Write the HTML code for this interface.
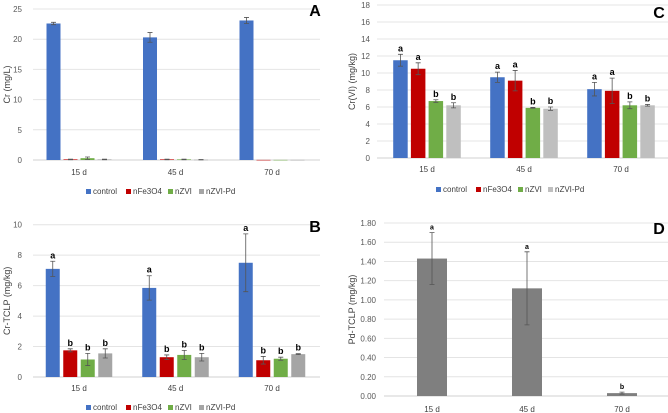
<!DOCTYPE html>
<html><head><meta charset="utf-8"><style>
html,body{margin:0;padding:0;background:#fff;}
svg{display:block;font-family:"Liberation Sans",sans-serif;}
</style></head><body>
<svg id="fig" width="668" height="413" viewBox="0 0 668 413"></svg>
<script>
const categories = ["15 d","45 d","70 d"];
const seriesNames = ["control","nFe3O4","nZVI","nZVI-Pd"];
// Panel A: Cr (mg/L)
const aControl = [22.6,20.3,23.1], aControlErr = [0.2,0.8,0.5];
const aFe = [0.1,0.1,0.02], aFeErr = [0.05,0.05,0];
const aZvi = [0.3,0.1,0.02], aZviErr = [0.2,0.05,0];
const aPd = [0.1,0.05,0.02], aPdErr = [0.05,0.03,0];
const aTicks = [0,5,10,15,20,25];
// Panel C: Cr(VI)
const cControl = [11.5,9.5,8.1], cControlErr = [0.7,0.6,0.8];
const cFe = [10.5,9.1,7.9], cFeErr = [0.7,1.2,1.5];
const cZvi = [6.7,5.9,6.2], cZviErr = [0.15,0.05,0.4];
const cPd = [6.2,5.8,6.2], cPdErr = [0.3,0.2,0.1];
const cLetters = [["a","a","b","b"],["a","a","b","b"],["a","a","b","b"]];
const cTicks = [0,2,4,6,8,10,12,14,16,18];
// Panel B: Cr-TCLP
const bControl = [7.1,5.85,7.5], bControlErr = [0.5,0.8,1.9];
const bFe = [1.75,1.3,1.1], bFeErr = [0.1,0.15,0.25];
const bZvi = [1.15,1.45,1.2], bZviErr = [0.4,0.3,0.1];
const bPd = [1.55,1.3,1.5], bPdErr = [0.3,0.25,0.03];
const bLetters = [["a","b","b","b"],["a","b","b","b"],["a","b","b","b"]];
const bTicks = [0,2,4,6,8,10];
// Panel D: Pd-TCLP
const dValues = [1.43,1.12,0.03], dErr = [0.27,0.38,0.01];
const dLetters = ["a","a","b"];
const dTicks = [0,0.2,0.4,0.6,0.8,1.0,1.2,1.4,1.6,1.8];

const NS="http://www.w3.org/2000/svg";
const svg=document.getElementById('fig');
function mk(tag,attrs,parent,text){const e=document.createElementNS(NS,tag);for(const k in attrs)e.setAttribute(k,attrs[k]);if(text!==undefined)e.textContent=text;(parent||svg).appendChild(e);return e;}

function panel(o){
  const g=mk('g',{});
  
  
  const y=v=>o.y0-(v/o.max)*(o.y0-o.yTop);
  o.ticks.forEach(t=>{
    const gl=mk('line',{x1:o.x0,x2:o.x1,y1:y(t),y2:y(t),stroke:t===0?'#d0d0d0':'#e4e4e4','stroke-width':1},g);
    
    
    const tl=mk('text',{x:o.tickX,y:y(t)+3,'text-anchor':'end','font-size':8,fill:'#595959'},g,o.fmt(t));
    
    
  });
  const yt=mk('text',{x:0,y:0,transform:`translate(${o.titleX},${(o.y0+o.yTop)/2}) rotate(-90)`,'text-anchor':'middle','font-size':9,fill:'#404040'},g,o.title);
  
  
  const pl=mk('text',{x:o.labelX,y:o.labelY,'text-anchor':'middle','font-size':16,'font-weight':'bold',fill:'#000'},g,o.letter);
  
  
  categories.forEach((c,i)=>{
    const cx=o.c0+i*o.step;
    const xl=mk('text',{x:cx,y:o.catY,'text-anchor':'middle','font-size':8,fill:'#404040'},g,c);
    
    
    const n=o.series.length;
    o.series.forEach((s,j)=>{
      const bx=cx-(n*o.bstep)/2+j*o.bstep+(o.bstep-o.bw)/2;
      const v=s.vals[i], e=s.err[i];
      const r=mk('rect',{x:bx,y:y(v),width:o.bw,height:Math.max(o.y0-y(v),0.5),fill:s.color},g);
      
      
      const mx=bx+o.bw/2;
      if(e>0){
        const eb=mk('path',{d:`M${mx},${y(v+e)}V${y(Math.max(v-e,0))}M${mx-2.5},${y(v+e)}h5M${mx-2.5},${y(Math.max(v-e,0))}h5`,stroke:'#555','stroke-width':0.8,fill:'none'},g);
        
        
      }
      if(s.letters){
        const lt=mk('text',{x:mx,y:y(v+e)-3,'text-anchor':'middle','font-size':o.letterSize,'font-weight':'bold',fill:'#000'},g,s.letters[i]);
        
        
      }
    });
  });
  if(o.legend){
    o.legend.xs.forEach((lx,j)=>{
      const sq=mk('rect',{x:lx,y:o.legend.y-5,width:5,height:5,fill:o.series[j].color},g);
      
      
      const lt=mk('text',{x:lx+7,y:o.legend.y,'font-size':8,fill:'#404040'},g,seriesNames[j]);
      
      
    });
  }
}
const col={b:'#4472c4',r:'#c00000',g:'#70ad47'};
panel({name:'panel-a',letter:'A',labelX:315,labelY:16,x0:33,x1:320,y0:160,yTop:9,max:25,ticks:aTicks,fmt:t=>String(t),tickX:22,titleX:10,title:'Cr (mg/L)',c0:79,step:96.5,bw:14,bstep:17,catY:175,letterSize:9,
  series:[{vals:aControl,err:aControlErr,color:col.b},{vals:aFe,err:aFeErr,color:col.r},{vals:aZvi,err:aZviErr,color:col.g},{vals:aPd,err:aPdErr,color:'#a5a5a5'}],
  legend:{y:194,xs:[86,126,168,199]}});
panel({name:'panel-c',letter:'C',labelX:659,labelY:18,x0:377,x1:668,y0:158,yTop:5,max:18,ticks:cTicks,fmt:t=>String(t),tickX:370,titleX:355,title:'Cr(VI) (mg/kg)',c0:427,step:97,bw:14.5,bstep:17.7,catY:172,letterSize:9,
  series:[{vals:cControl,err:cControlErr,color:col.b,letters:cLetters.map(r=>r[0])},{vals:cFe,err:cFeErr,color:col.r,letters:cLetters.map(r=>r[1])},{vals:cZvi,err:cZviErr,color:col.g,letters:cLetters.map(r=>r[2])},{vals:cPd,err:cPdErr,color:'#bfbfbf',letters:cLetters.map(r=>r[3])}],
  legend:{y:192,xs:[436,476,518,548]}});
panel({name:'panel-b',letter:'B',labelX:315,labelY:232,x0:33,x1:320,y0:377,yTop:224.7,max:10,ticks:bTicks,fmt:t=>String(t),tickX:22,titleX:10,title:'Cr-TCLP (mg/kg)',c0:79,step:96.5,bw:14,bstep:17.5,catY:391,letterSize:9,
  series:[{vals:bControl,err:bControlErr,color:col.b,letters:bLetters.map(r=>r[0])},{vals:bFe,err:bFeErr,color:col.r,letters:bLetters.map(r=>r[1])},{vals:bZvi,err:bZviErr,color:col.g,letters:bLetters.map(r=>r[2])},{vals:bPd,err:bPdErr,color:'#a5a5a5',letters:bLetters.map(r=>r[3])}],
  legend:{y:410,xs:[86,126,168,199]}});
panel({name:'panel-d',letter:'D',labelX:659,labelY:234,x0:384,x1:668,y0:396,yTop:223,max:1.8,ticks:dTicks,fmt:t=>t.toFixed(2),tickX:376,titleX:355,title:'Pd-TCLP (mg/kg)',c0:432,step:95,bw:30,bstep:30,catY:412,letterSize:7,
  series:[{vals:dValues,err:dErr,color:'#7f7f7f',letters:dLetters}]});
</script>
</body></html>
